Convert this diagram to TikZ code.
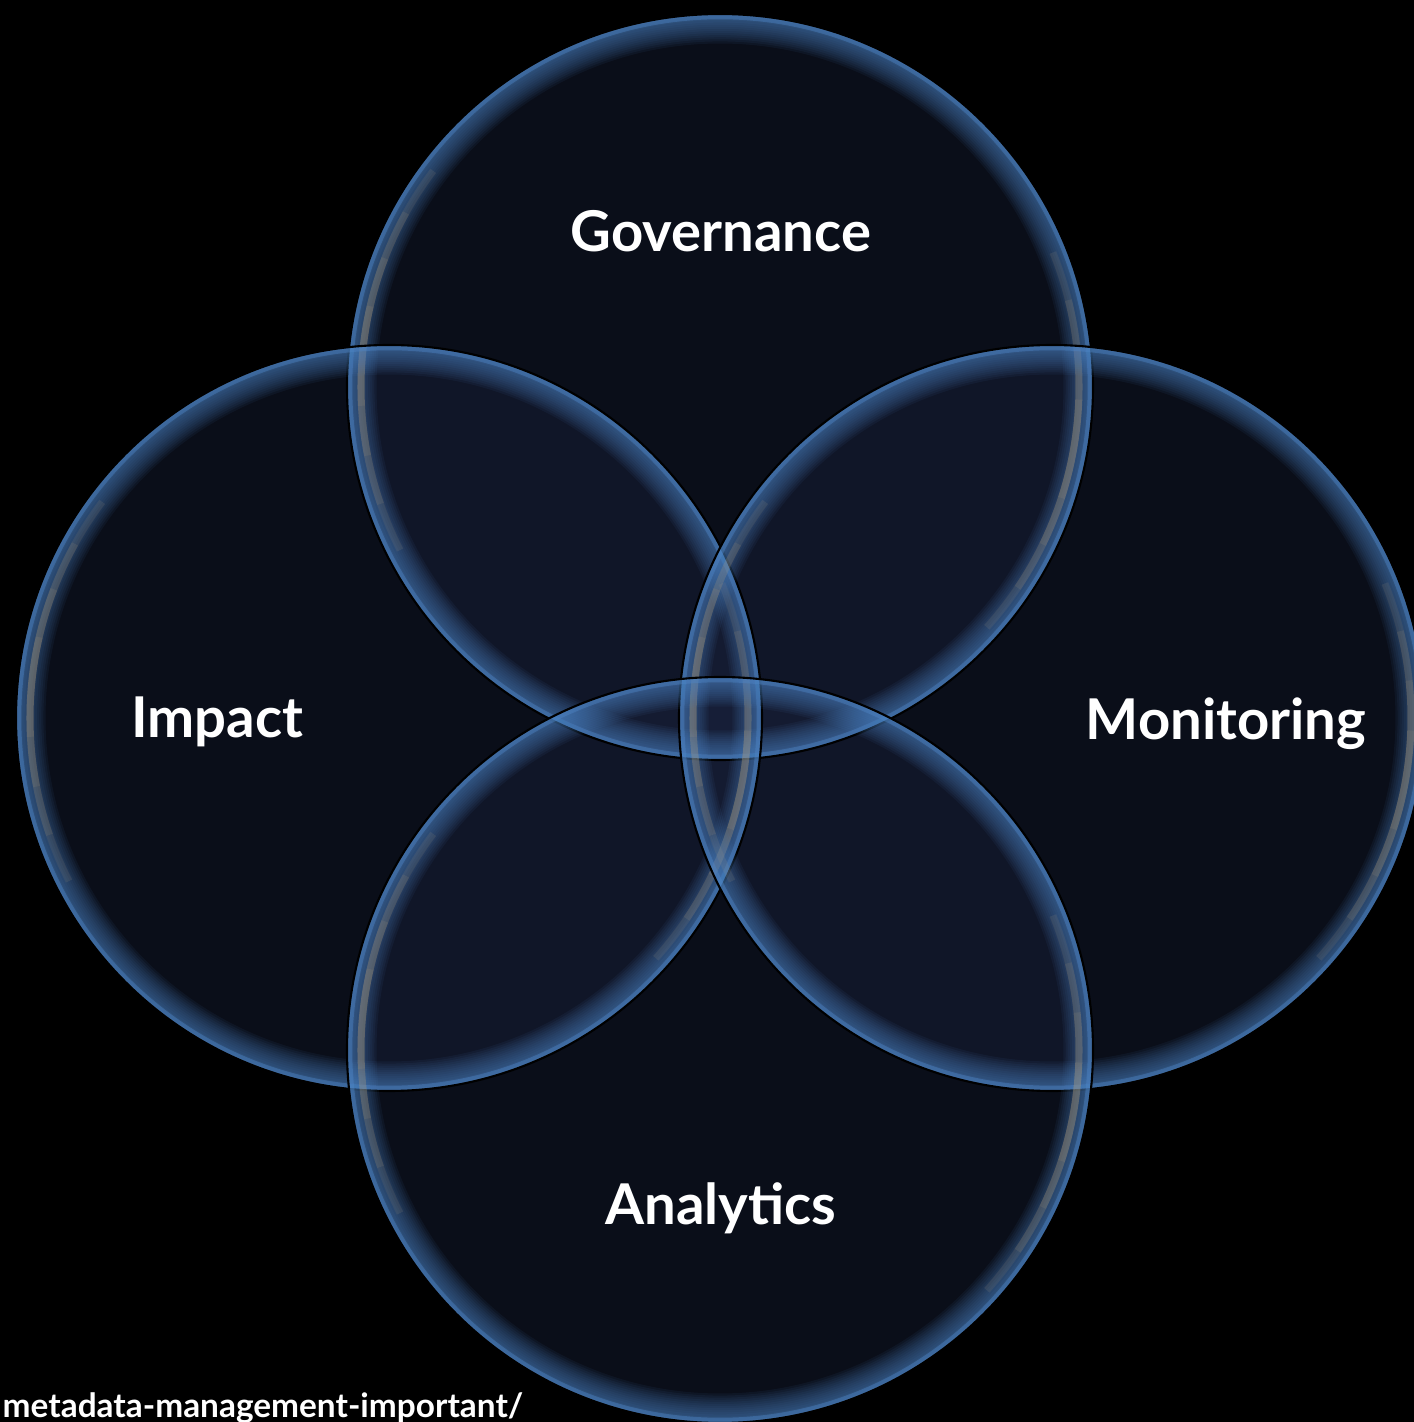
\documentclass[tikz,border=0pt]{standalone}
\usepackage{fontspec}
\setmainfont{Lato}
\usetikzlibrary{positioning,calc}
\definecolor{rim}{RGB}{78,132,196}
\definecolor{core}{RGB}{26,36,64}
\definecolor{shine}{RGB}{175,158,128}
\tikzset{
  bubble/.style={fill=core,fill opacity=0.4},
  glow/.style={draw=rim,draw opacity=0.07},
  sheen/.style={draw=shine,line width=2pt,draw opacity=0.13},
  titletext/.style={text=white,anchor=base,font=\bfseries\fontsize{16}{19}\selectfont},
  urltext/.style={text=white,anchor=base west,inner sep=0pt,font=\bfseries\fontsize{9.5}{11}\selectfont}
}

\begin{document}
\begin{tikzpicture}
    \fill[black] (0,0) rectangle (14.14,14.22);
    \useasboundingbox (0,0) rectangle (14.14,14.22);
    \clip (0,0) rectangle (14.14,14.22);
    \def\R{3.73}
    \pgfmathsetmacro\Rin{\R-0.14}
    \coordinate (Gov) at (7.20,10.35);
    \coordinate (Imp) at (3.89,7.04);
    \coordinate (Mon) at (10.52,7.04);
    \coordinate (Ana) at (7.20,3.72);
    \foreach \c in {Gov,Imp,Mon,Ana}
        \fill[bubble] (\c) circle (\R);
    \foreach \c in {Gov,Imp,Mon,Ana}
    {
        \begin{scope}
            \clip (\c) circle (\R);
            \foreach \w in {1,...,14}
                \draw[glow,line width=\w*1.2pt] (\c) circle (\R);
            \draw[rim,line width=3pt,draw opacity=0.45] (\c) circle (\R);
            % soft highlight on both sides
            \foreach \a in {8,16,24,32}
            {
                \draw[sheen] ($(\c)+(175-\a:\Rin)$) arc (175-\a:175+\a:\Rin);
                \draw[sheen] ($(\c)+(-10-\a:\Rin)$) arc (-10-\a:-10+\a:\Rin);
            }
        \end{scope}
        \draw[black,line width=0.6pt] (\c) circle (\R);
    }
    \node[titletext] (govlabel) at (7.21,11.70) {Governance};
    \node[titletext] (implabel) at (2.17,6.84) {Impact};
    \node[titletext] (monlabel) at (12.26,6.82) {Monitoring};
    \node[titletext] (analabel) at (7.21,1.97) {Analytics};
    \node[urltext] (url) at (0.02,0.04) {metadata-management-important/};
\end{tikzpicture}
\end{document}
